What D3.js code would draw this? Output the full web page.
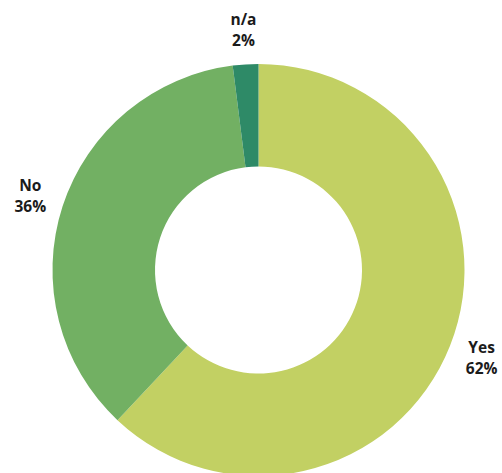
<!DOCTYPE html>
<html>
<head>
<meta charset="utf-8">
<script src="https://cdn.jsdelivr.net/npm/d3@7"></script>
<style>
  html, body { margin: 0; padding: 0; background: #fff; }
  svg { display: block; }
</style>
</head>
<body>
<div id="chart"></div>
<script>
// answers and their shares (percent)
const categories = ["Yes", "No", "n/a"];
const values = [62, 36, 2];
const colors = ["#c2d063", "#72b063", "#2e8a67"];

const width = 502, height = 473;
const cx = 258.5, cy = 270;
const outerR = 206, innerR = 103.5, labelR = 240;

const data = categories.map(function(c, i) { return {name: c, value: values[i]}; });

const svg = d3.select("#chart").append("svg")
  .attr("width", width)
  .attr("height", height);

const g = svg.append("g")
  .attr("transform", "translate(" + cx + "," + cy + ")");

const color = d3.scaleOrdinal().domain(categories).range(colors);

const pie = d3.pie()
  .value(function(d) { return d.value; })
  .sort(null);

const arc = d3.arc().innerRadius(innerR).outerRadius(outerR);
const labelArc = d3.arc().innerRadius(labelR).outerRadius(labelR);

const arcs = pie(data);

g.selectAll("path.slice")
  .data(arcs)
  .enter().append("path")
  .attr("class", "slice")
  .attr("d", arc)
  .attr("fill", function(d) { return color(d.data.name); });

// labels outside the ring, name on top and percent below
const labels = g.selectAll("text.lbl")
  .data(arcs)
  .enter().append("text")
  .attr("class", "lbl")
  .attr("text-anchor", "middle")
  .style("font-family", "'Open Sans', sans-serif")
  .style("font-weight", "bold")
  .style("font-size", "15.5px")
  .style("fill", "#1b1b1b");

labels.each(function(d) {
  const p = labelArc.centroid(d);
  const t = d3.select(this);
  t.append("tspan").attr("x", p[0]).attr("y", p[1] - 5).text(d.data.name);
  t.append("tspan").attr("x", p[0]).attr("y", p[1] + 16).text(d.data.value + "%");
});
</script>
</body>
</html>
